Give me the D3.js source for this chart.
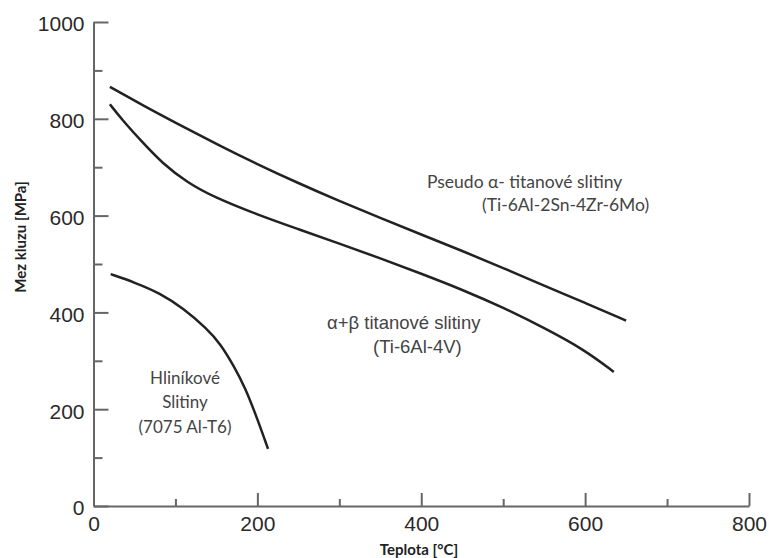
<!DOCTYPE html>
<html><head><meta charset="utf-8">
<script src="https://cdn.jsdelivr.net/npm/d3@7"></script>
<style>body{margin:0;background:#fff}svg{display:block}</style>
</head><body><svg id="c" width="769" height="558"></svg>
<script>
// ---- data ----
const xMajorTicks = [0, 200, 400, 600, 800];
const xMinorTicks = [100, 300, 500, 700];
const yMajorTicks = [0, 200, 400, 600, 800, 1000];
const yMinorTicks = [100, 300, 500, 700, 900];

const pseudoAlphaTemp = [20, 60, 100, 150, 200, 250, 300, 350, 400, 450, 500, 550, 600, 650];
const pseudoAlphaYield = [866, 828, 792, 748, 706, 667, 630, 595, 561, 527, 492, 455, 420, 383];

const alphaBetaTemp = [20, 35, 55, 85, 115, 146, 200, 250, 300, 350, 400, 450, 500, 550, 600, 635];
const alphaBetaYield = [830, 798, 760, 706, 668, 639, 602, 572, 542, 512, 480, 447, 410, 368, 322, 277];

const aluTemp = [21, 50, 81, 110, 138, 155, 171, 185, 200, 213];
const aluYield = [479, 462, 440, 408, 367, 335, 290, 245, 180, 118];

// ---- chart ----
const svg = d3.select("#c");
const x = d3.scaleLinear().domain([0, 800]).range([93.5, 749]);
const y = d3.scaleLinear().domain([0, 1000]).range([506, 22]);
const axisColor = "#666";
const fmt = d3.format("d");

const gy = svg.append("g").attr("transform", `translate(${x(0)},0)`);
gy.call(d3.axisLeft(y).tickValues(yMajorTicks).tickFormat(fmt).tickSizeInner(-15).tickSizeOuter(0).tickPadding(9));
const gy2 = svg.append("g").attr("transform", `translate(${x(0)},0)`);
gy2.call(d3.axisLeft(y).tickValues(yMinorTicks).tickSize(-9).tickFormat(""));
gy2.select(".domain").remove();

const gx = svg.append("g").attr("transform", `translate(0,${y(0)})`);
gx.call(d3.axisBottom(x).tickValues(xMajorTicks).tickFormat(fmt).tickSizeInner(-13).tickSizeOuter(0).tickPadding(10));
const gx2 = svg.append("g").attr("transform", `translate(0,${y(0)})`);
gx2.call(d3.axisBottom(x).tickValues(xMinorTicks).tickSize(-7).tickFormat(""));
gx2.select(".domain").remove();

svg.selectAll(".domain, .tick line").attr("stroke", axisColor).attr("stroke-width", 2);
svg.selectAll(".tick text").attr("fill", "#2a2a2a")
  .style("font-family", "'Liberation Sans', Arial, sans-serif").style("font-size", "21px");
gy.selectAll(".tick text").attr("dy", "0.42em");

// axis titles
svg.append("text").attr("x", 419).attr("y", 555).attr("text-anchor", "middle")
  .style("font-family", "Lato, sans-serif").style("font-weight", "bold").style("font-size", "15px")
  .attr("fill", "#222").text("Teplota [°C]");
svg.append("text").attr("transform", "translate(26,237) rotate(-90)").attr("text-anchor", "middle")
  .style("font-family", "Lato, sans-serif").style("font-weight", "bold").style("font-size", "15px")
  .attr("fill", "#222").text("Mez kluzu [MPa]");

// curves
const line = d3.line().x(d => x(d[0])).y(d => y(d[1])).curve(d3.curveBasis);
const series = [
  d3.zip(pseudoAlphaTemp, pseudoAlphaYield),
  d3.zip(alphaBetaTemp, alphaBetaYield),
  d3.zip(aluTemp, aluYield)
];
svg.selectAll("path.curve").data(series).join("path").attr("class", "curve")
  .attr("d", line).attr("fill", "none").attr("stroke", "#222").attr("stroke-width", 2.5);

// annotations
function label(txt, px, py, anchor, family, size) {
  svg.append("text").attr("x", px).attr("y", py).attr("text-anchor", anchor)
    .style("font-family", family).style("font-size", size + "px").attr("fill", "#444").text(txt);
}
const cal = "Lato, sans-serif", ari = "'Liberation Sans', Arial, sans-serif";
label("Pseudo α- titanové slitiny", 427, 188, "start", cal, 17.5);
label("(Ti-6Al-2Sn-4Zr-6Mo)", 482, 211, "start", cal, 17.5);
label("α+β titanové slitiny", 327, 329, "start", ari, 18.5);
label("(Ti-6Al-4V)", 373, 353, "start", ari, 18.5);
label("Hliníkové", 185, 384, "middle", cal, 17);
label("Slitiny", 185, 408, "middle", cal, 17);
label("(7075 Al-T6)", 185, 433, "middle", cal, 17);
</script></body></html>
